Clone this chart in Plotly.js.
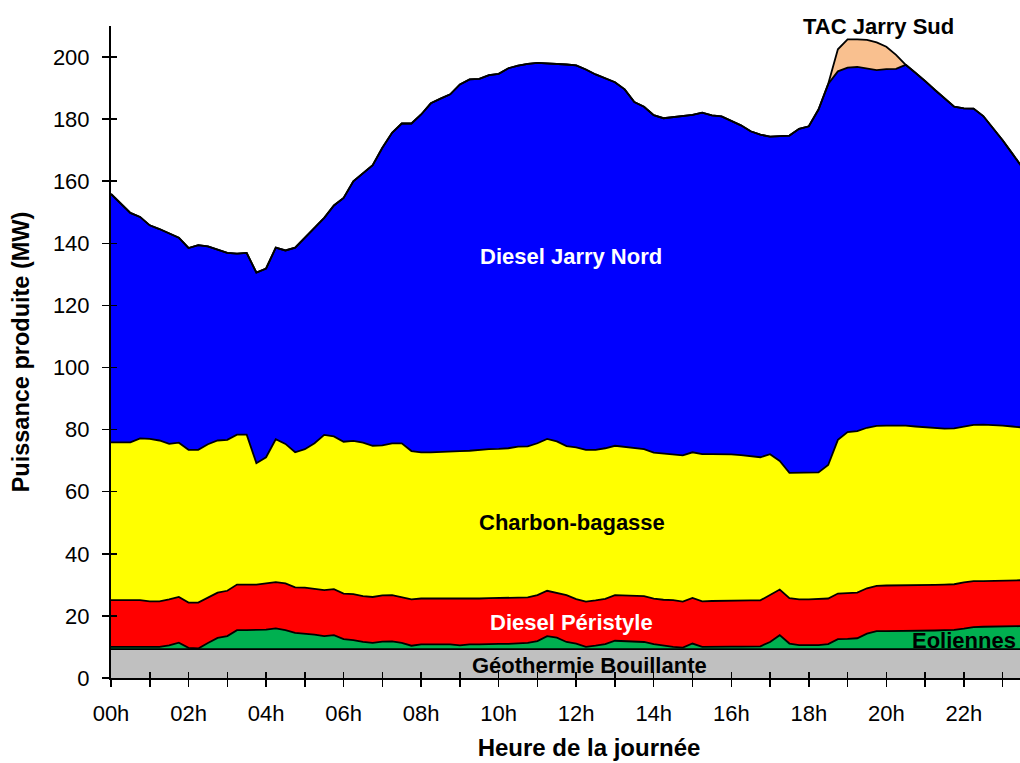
<!DOCTYPE html>
<html>
<head>
<meta charset="utf-8">
<script src="https://cdn.plot.ly/plotly-3.0.1.min.js"></script>
<style>html,body{margin:0;padding:0;background:#fff;overflow:hidden;}#chart{width:1067px;height:763px;}</style>
</head>
<body>
<div id="chart"></div>
<script>
// 15-minute resolution production (MW), from 00h00 to 23h30
const geothermie = [
9.3,9.3,9.3,9.3,9.3,9.3,9.3,9.3,9.3,9.3,
9.3,9.3,9.3,9.3,9.3,9.3,9.3,9.3,9.3,9.3,
9.3,9.3,9.3,9.3,9.3,9.3,9.3,9.3,9.3,9.3,
9.3,9.3,9.3,9.3,9.3,9.3,9.3,9.3,9.3,9.3,
9.3,9.3,9.3,9.3,9.3,9.3,9.3,9.3,9.3,9.3,
9.3,9.3,9.3,9.3,9.3,9.3,9.3,9.3,9.3,9.3,
9.3,9.3,9.3,9.3,9.3,9.3,9.3,9.3,9.3,9.3,
9.3,9.3,9.3,9.3,9.3,9.3,9.3,9.3,9.3,9.3,
9.3,9.3,9.3,9.3,9.3,9.3,9.3,9.3,9.3,9.3,
9.3,9.3,9.3,9.3,9.3];
const eoliennes = [
0.7,0.7,0.7,0.7,0.6,0.7,1.2,2.1,0.4,0.2,
2.0,3.6,4.2,6.1,6.1,6.1,6.3,6.7,6.1,5.2,
5.0,4.7,4.2,4.5,3.2,2.9,2.3,2.0,2.4,2.5,
2.0,1.1,1.5,1.5,1.6,1.5,1.2,1.5,1.5,1.7,
1.7,1.7,1.9,2.0,2.6,4.2,3.7,2.3,1.8,0.7,
1.1,1.6,2.7,2.6,2.5,2.3,1.6,1.1,0.7,0.5,
1.8,0.7,0.8,0.8,0.8,0.8,0.8,0.9,2.3,4.5,
1.8,1.3,1.3,1.3,1.6,3.2,3.3,3.5,5.0,5.8,
5.8,5.8,5.9,5.9,5.9,6.0,6.1,6.2,6.6,7.1,
7.2,7.2,7.3,7.4,7.4];
const dieselPeristyle = [
15.1,15.1,15.1,15.1,14.8,14.7,14.8,14.7,14.6,14.8,
14.6,14.6,14.6,14.7,14.7,14.7,14.9,14.9,15.1,14.7,
14.8,14.7,14.8,14.8,14.7,14.8,14.8,14.8,14.9,14.9,
14.8,14.9,14.8,14.8,14.7,14.8,14.9,14.6,14.8,14.7,
14.7,14.7,14.7,14.7,14.8,14.6,14.5,15.1,14.3,14.6,
14.6,14.6,14.7,14.7,14.7,14.8,14.7,14.8,15.1,14.8,
14.7,14.7,14.7,14.8,14.8,14.8,14.9,14.8,15.1,14.7,
14.6,14.7,14.7,14.8,14.7,14.7,14.7,14.7,14.6,14.6,
14.7,14.7,14.6,14.6,14.6,14.7,14.7,14.7,14.9,14.8,
14.7,14.8,14.8,14.8,14.8];
const charbonBagasse = [
50.8,50.8,50.8,52.1,52.3,51.8,50.1,49.7,49.2,49.2,
49.4,49.0,48.6,48.3,48.3,39.1,40.6,46.0,44.9,43.5,
44.6,46.9,50.0,49.2,48.9,49.4,49.4,48.7,48.3,48.9,
49.5,47.8,47.1,47.1,47.3,47.5,47.7,47.8,47.9,48.0,
48.1,48.3,48.6,48.6,48.9,48.9,48.7,48.0,48.9,48.9,
48.5,48.5,48.1,47.8,47.5,47.3,47.0,47.1,47.1,47.1,
46.9,47.4,47.3,47.2,47.1,46.9,46.5,46.1,45.4,41.4,
40.4,40.8,40.9,40.8,43.0,49.5,51.9,52.0,51.7,51.5,
51.5,51.5,51.5,51.2,51.0,50.4,50.2,50.2,50.2,50.3,
50.4,50.2,49.9,49.5,49.2];
const dieselJarryNord = [
80.0,76.9,73.9,71.3,68.8,68.1,67.9,66.0,65.0,65.9,
63.7,61.5,60.2,58.3,58.5,61.4,60.8,61.7,62.3,65.9,
68.0,69.4,69.9,74.4,78.5,83.6,86.9,90.4,95.9,100.0,
103.0,105.5,108.8,112.4,113.7,114.9,118.1,119.6,119.5,120.5,
120.8,122.4,122.7,123.2,122.5,121.0,121.6,122.9,123.0,122.5,
120.9,119.1,117.1,115.2,111.5,110.3,108.7,108.0,108.4,109.3,
108.7,110.0,109.1,108.8,107.4,106.2,104.6,103.9,102.3,104.6,
108.6,110.8,111.5,116.9,122.7,118.7,117.4,117.3,115.8,114.6,
114.8,114.9,116.2,114.0,111.5,109.0,106.3,103.6,102.5,101.9,
99.4,95.7,91.9,87.9,83.9];
const tacJarrySud = [
0,0,0,0,0,0,0,0,0,0,
0,0,0,0,0,0,0,0,0,0,
0,0,0,0,0,0,0,0,0,0,
0,0,0,0,0,0,0,0,0,0,
0,0,0,0,0,0,0,0,0,0,
0,0,0,0,0,0,0,0,0,0,
0,0,0,0,0,0,0,0,0,0,
0,0,0,0,0,7.1,9.1,8.9,9.1,8.9,
7.2,4.5,0,0,0,0,0,0,0,0,
0,0,0,0,0];

const hourTicks = [0,1,2,3,4,5,6,7,8,9,10,11,12,13,14,15,16,17,18,19,20,21,22,23,24];
const hourLabels = ['00h','','02h','','04h','','06h','','08h','','10h','','12h','','14h','','16h','','18h','','20h','','22h','',''];
const mwTicks = [0,20,40,60,80,100,120,140,160,180,200];

const seriesNames = ['Géothermie Bouillante','Eoliennes','Diesel Péristyle','Charbon-bagasse','Diesel Jarry Nord','TAC Jarry Sud'];
const seriesData = [geothermie, eoliennes, dieselPeristyle, charbonBagasse, dieselJarryNord, tacJarrySud];
const seriesColors = ['#C0C0C0','#00B050','#FF0000','#FFFF00','#0000FF','#F9C08F'];

const hours = geothermie.map((_, i) => i * 0.25);

const FONT = 'Liberation Sans, Arial, sans-serif';

const traces = seriesData.map((vals, k) => ({
  x: hours, y: vals, name: seriesNames[k], type: 'scatter', mode: 'lines',
  stackgroup: 'one', fillcolor: seriesColors[k],
  line: {color: '#000000', width: 1.8, shape: 'linear'},
  hoverinfo: 'skip'
}));
traces.push({x: [], y: [], xaxis: 'x2', yaxis: 'y2', type: 'scatter', mode: 'lines', showlegend: false, hoverinfo: 'skip'});

// the original chart is wider than the 1020px window and is cut on the right
const xr = [0, 24.66], yr = [0, 210];

const labelFont = (c) => ({family: FONT, size: 22, color: c, weight: 'bold'});

const layout = {
  width: 1067, height: 763,
  margin: {l: 111, r: 0, t: 26, b: 85, pad: 0},
  paper_bgcolor: '#ffffff', plot_bgcolor: '#ffffff',
  showlegend: false,
  xaxis: {
    range: xr, tickmode: 'array', tickvals: hourTicks, ticktext: hourLabels,
    ticks: 'outside', ticklen: 7, tickwidth: 1.5, tickcolor: '#000',
    showline: true, linecolor: '#000', linewidth: 2, mirror: false,
    showgrid: false, zeroline: false,
    tickfont: {family: FONT, size: 22, color: '#000'},
    ticklabelstandoff: 8,
    title: {text: 'Heure de la journée', font: {family: FONT, size: 24, color: '#000', weight: 'bold'}, standoff: 14}
  },
  yaxis: {
    range: yr, tickmode: 'array', tickvals: mwTicks,
    ticks: 'outside', ticklen: 7, tickwidth: 1.5, tickcolor: '#000',
    showline: true, linecolor: '#000', linewidth: 2,
    showgrid: false, zeroline: false,
    tickfont: {family: FONT, size: 22, color: '#000'},
    ticklabelstandoff: 8,
    title: {text: 'Puissance produite (MW)', font: {family: FONT, size: 23.5, color: '#000', weight: 'bold'}, standoff: 17}
  },
  xaxis2: {
    overlaying: 'x', anchor: 'y', side: 'bottom', range: xr,
    tickmode: 'array', tickvals: hourTicks, showticklabels: false,
    ticks: 'inside', ticklen: 6, tickwidth: 1.5, tickcolor: '#000',
    showline: false, showgrid: false, zeroline: false
  },
  yaxis2: {
    overlaying: 'y', anchor: 'x', side: 'left', range: yr,
    tickmode: 'array', tickvals: mwTicks, showticklabels: false,
    ticks: 'inside', ticklen: 6, tickwidth: 1.5, tickcolor: '#000',
    showline: false, showgrid: false, zeroline: false
  },
  annotations: [
    {x: 11.87, y: 135.7, xref: 'x', yref: 'y', text: 'Diesel Jarry Nord', showarrow: false, font: labelFont('#ffffff')},
    {x: 11.88, y: 50.2, xref: 'x', yref: 'y', text: 'Charbon-bagasse', showarrow: false, font: labelFont('#000000')},
    {x: 11.87, y: 18.0, xref: 'x', yref: 'y', text: 'Diesel Péristyle', showarrow: false, font: labelFont('#ffffff')},
    {x: 12.33, y: 4.1, xref: 'x', yref: 'y', text: 'Géothermie Bouillante', showarrow: false, font: labelFont('#000000')},
    {x: 22.0, y: 12.2, xref: 'x', yref: 'y', text: 'Eoliennes', showarrow: false, font: labelFont('#000000')},
    {x: 19.8, y: 209.9, xref: 'x', yref: 'y', text: 'TAC Jarry Sud', showarrow: false, font: labelFont('#000000')}
  ]
};

Plotly.newPlot('chart', traces, layout, {displayModeBar: false, staticPlot: true});
</script>
</body>
</html>
